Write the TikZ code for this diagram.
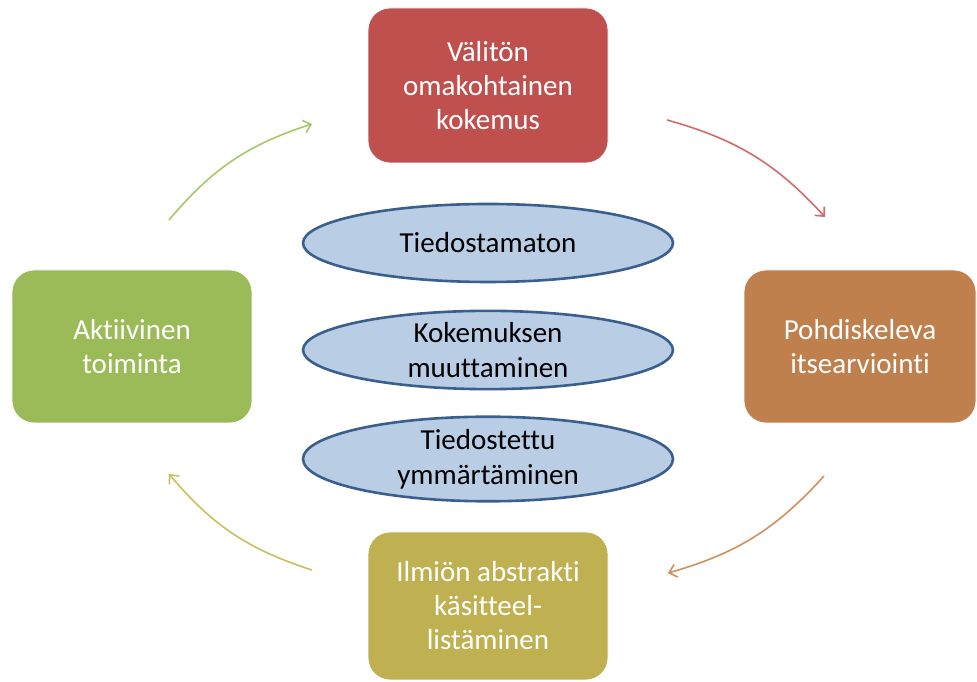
\documentclass[tikz,border=0pt]{standalone}
\usepackage{fontspec}
\setmainfont{Carlito}[Ligatures={NoCommon,NoRare,NoContextual}]
\usetikzlibrary{shapes.geometric,arrows.meta}
\definecolor{boxred}{HTML}{C0504D}
\definecolor{boxorange}{HTML}{C0804D}
\definecolor{boxgreen}{HTML}{9BBB59}
\definecolor{boxolive}{HTML}{BFB051}
\definecolor{ovalfill}{HTML}{B9CDE5}
\definecolor{ovalline}{HTML}{3A5F8C}
\definecolor{arrred}{HTML}{D46A68}
\definecolor{arrorange}{HTML}{D0905C}
\definecolor{arrolive}{HTML}{CBBE5E}
\definecolor{arrgreen}{HTML}{A6C866}
\tikzset{
  x=1pt, y=1pt,
  phasebox/.style={draw=white, line width=0.8pt, rounded corners=22pt,
    text=white, align=center, inner sep=0pt,
    font=\fontsize{29}{34}\selectfont},
  oval/.style={ellipse, draw=ovalline, line width=2.6pt, fill=ovalfill,
    minimum width=370pt, minimum height=78pt, inner sep=0pt, align=center,
    font=\fontsize{29}{35}\selectfont},
  cycle/.style={line width=1.6pt, -{Straight Barb[length=7pt,width=13pt]}, bend left=16},
}
\begin{document}
\begin{tikzpicture}
\useasboundingbox (0,0) rectangle (977,682);

% four stages of the learning cycle
\node[phasebox, fill=boxred, minimum width=240pt, minimum height=155pt]
  (exp) at (488,596.5) {Välitön\\omakohtainen\\kokemus};
\node[phasebox, fill=boxorange, minimum width=232pt, minimum height=153pt]
  (refl) at (860,335.5) {Pohdiskeleva\\itsearviointi};
\node[phasebox, fill=boxolive, minimum width=240pt, minimum height=148pt]
  (abs) at (488,76) {Ilmiön abstrakti\\käsitteel-\\listäminen};
\node[phasebox, fill=boxgreen, minimum width=240pt, minimum height=153pt]
  (act) at (132,335.5) {Aktiivinen\\toiminta};

% central ovals
\node[oval] (o1) at (488,439) {Tiedostamaton};
\node[oval] (o2) at (488,332) {Kokemuksen\\muuttaminen};
\node[oval] (o3) at (488,223) {Tiedostettu\\ymmärtäminen};

% arrow end points between the stages
\coordinate (a1s) at (667,562);
\coordinate (a1e) at (825,465);
\coordinate (a2s) at (824,206);
\coordinate (a2e) at (668,109);
\coordinate (a3s) at (312,112);
\coordinate (a3e) at (169,208);
\coordinate (a4s) at (169,462);
\coordinate (a4e) at (312,558);

\draw[cycle, arrred] (a1s) to (a1e);
\draw[cycle, arrorange] (a2s) to (a2e);
\draw[cycle, arrolive] (a3s) to (a3e);
\draw[cycle, arrgreen] (a4s) to (a4e);
\end{tikzpicture}
\end{document}
